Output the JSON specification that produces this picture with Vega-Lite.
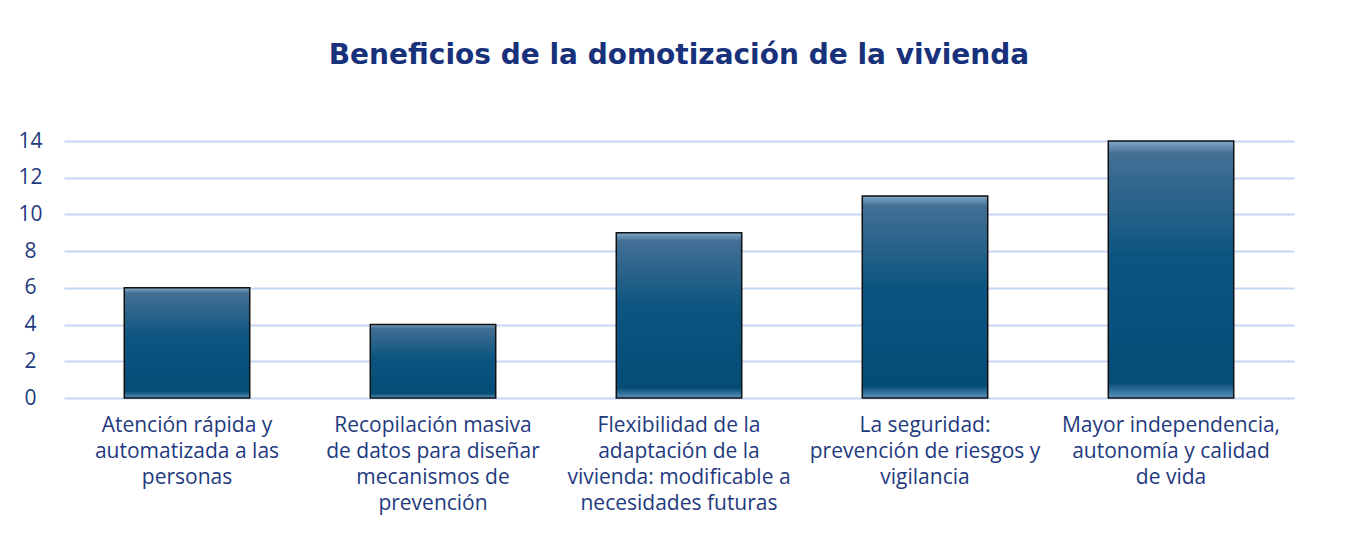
{
  "$schema": "https://vega.github.io/schema/vega-lite/v6.json",
  "width": 1230,
  "height": 257,
  "autosize": {"type": "none"},
  "padding": {"left": 64, "top": 141, "right": 51, "bottom": 146},
  "background": "white",
  "title": {
    "text": "Beneficios de la domotización de la vivienda",
    "font": "DejaVu Sans",
    "fontSize": 28,
    "fontWeight": "bold",
    "color": "#17317A",
    "anchor": "middle",
    "baseline": "alphabetic",
    "offset": 38
  },
  "data": {
    "values": [
      {"label": "Atención rápida y|automatizada a las|personas", "value": 6},
      {"label": "Recopilación masiva|de datos para diseñar|mecanismos de|prevención", "value": 4},
      {"label": "Flexibilidad de la|adaptación de la|vivienda: modificable a|necesidades futuras", "value": 9},
      {"label": "La seguridad:|prevención de riesgos y|vigilancia", "value": 11},
      {"label": "Mayor independencia,|autonomía y calidad|de vida", "value": 14}
    ]
  },
  "mark": {
    "type": "bar",
    "stroke": "#111111",
    "strokeWidth": 1.5,
    "color": {
      "gradient": "linear",
      "x1": 0, "y1": 0, "x2": 0, "y2": 1,
      "stops": [
        {"offset": 0, "color": "#82A8C8"},
        {"offset": 0.05, "color": "#436F94"},
        {"offset": 0.45, "color": "#0C5580"},
        {"offset": 0.94, "color": "#054C77"},
        {"offset": 1, "color": "#5B93BA"}
      ]
    }
  },
  "encoding": {
    "x": {
      "field": "label",
      "type": "nominal",
      "sort": null,
      "scale": {"paddingInner": 0.49, "paddingOuter": 0.245},
      "axis": {
        "title": null,
        "labelAngle": 0,
        "labelExpr": "split(datum.label, '|')",
        "labelFont": "Open Sans",
        "labelFontSize": 21,
        "labelColor": "#1F3A7E",
        "labelLineHeight": 26,
        "labelBaseline": "top",
        "labelPadding": 16,
        "labelLimit": 300,
        "ticks": false,
        "domain": false,
        "grid": false
      }
    },
    "y": {
      "field": "value",
      "type": "quantitative",
      "scale": {"domain": [0, 14], "nice": false},
      "axis": {
        "title": null,
        "values": [0, 2, 4, 6, 8, 10, 12, 14],
        "labelFont": "Open Sans",
        "labelFontSize": 21,
        "labelColor": "#1F3A7E",
        "labelAlign": "center",
        "labelPadding": 34,
        "ticks": false,
        "domain": false,
        "grid": true,
        "gridColor": "#C7D6F6",
        "gridWidth": 2
      }
    }
  },
  "config": {"view": {"stroke": null}}
}
